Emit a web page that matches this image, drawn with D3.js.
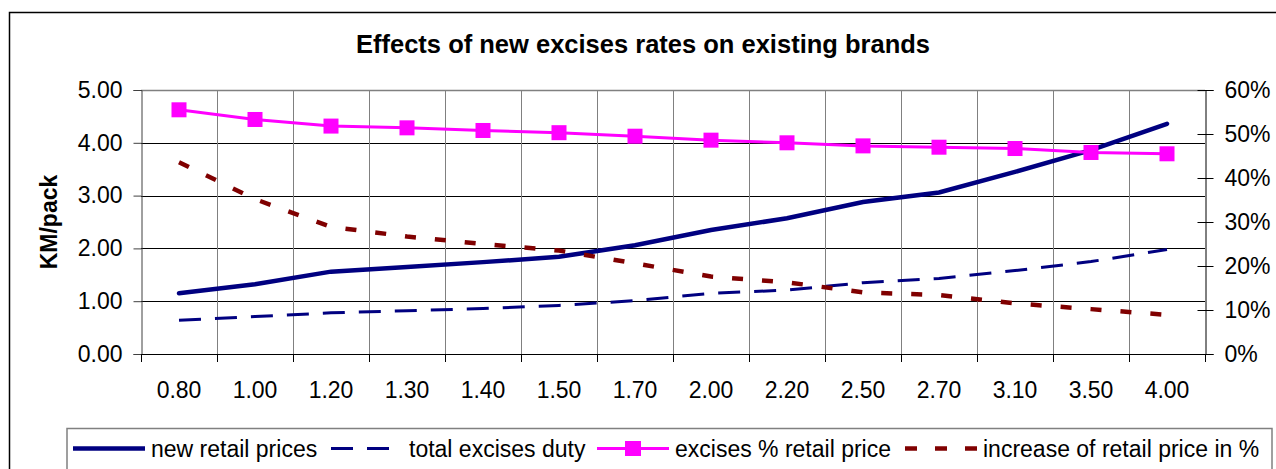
<!DOCTYPE html>
<html>
<head>
<meta charset="utf-8">
<script src="https://cdn.jsdelivr.net/npm/d3@7"></script>
<style>
  body { margin: 0; background: #fff; }
  svg { display: block; font-family: "Liberation Sans", Arial, sans-serif; }
</style>
</head>
<body>
<svg width="1276" height="469"></svg>
<script>
const categories = ['0.80', '1.00', '1.20', '1.30', '1.40', '1.50', '1.70', '2.00', '2.20', '2.50', '2.70', '3.10', '3.50', '4.00'];
const newRetail = [1.15, 1.32, 1.56, 1.65, 1.74, 1.84, 2.06, 2.35, 2.57, 2.88, 3.06, 3.45, 3.86, 4.36];
const totalExcise = [0.64, 0.71, 0.78, 0.82, 0.86, 0.92, 1.01, 1.15, 1.21, 1.35, 1.43, 1.58, 1.75, 1.98];
const excisePct = [0.555, 0.533, 0.518, 0.514, 0.508, 0.503, 0.495, 0.486, 0.480, 0.473, 0.470, 0.467, 0.458, 0.455];
const increasePct = [0.436, 0.352, 0.289, 0.267, 0.250, 0.235, 0.206, 0.176, 0.163, 0.140, 0.134, 0.115, 0.102, 0.089];
const leftTicks = [0, 1, 2, 3, 4, 5];
const rightTicks = [0, 0.1, 0.2, 0.3, 0.4, 0.5, 0.6];

const svg = d3.select('svg');
const plot = { left: 141, right: 1205, top: 90, bottom: 354 };

const x = d3.scaleBand().domain(categories).range([plot.left, plot.right]).padding(0);
const yL = d3.scaleLinear().domain([0, 5]).range([plot.bottom, plot.top]);
const yR = d3.scaleLinear().domain([0, 0.6]).range([plot.bottom, plot.top]);
const cx = (c) => x(c) + x.bandwidth() / 2;

// outer chart frame (right/bottom edges fall outside the picture)
svg.append('path')
  .attr('d', 'M9.5,469 V12.5 H1276')
  .attr('fill', 'none').attr('stroke', '#000').attr('stroke-width', 1.5);

// title
svg.append('text')
  .attr('x', 643).attr('y', 53)
  .attr('text-anchor', 'middle')
  .style('font-size', '25.5px').style('font-weight', 'bold')
  .text('Effects of new excises rates on existing brands');

// grid
const grid = svg.append('g');
grid.selectAll('.hg')
  .data(leftTicks.slice(1, 5))
  .join('line')
  .attr('x1', plot.left).attr('x2', plot.right)
  .attr('y1', (d) => Math.round(yL(d)) + 0.5).attr('y2', (d) => Math.round(yL(d)) + 0.5)
  .attr('stroke', '#000').attr('stroke-width', 1);
grid.selectAll('.vg')
  .data(categories.slice(1))
  .join('line')
  .attr('x1', (d) => Math.round(x(d)) + 0.5).attr('x2', (d) => Math.round(x(d)) + 0.5)
  .attr('y1', plot.top).attr('y2', plot.bottom)
  .attr('stroke', '#808080').attr('stroke-width', 1);
grid.append('line')
  .attr('x1', plot.left).attr('x2', plot.right)
  .attr('y1', plot.top + 0.5).attr('y2', plot.top + 0.5)
  .attr('stroke', '#808080').attr('stroke-width', 1.5);

// left axis
const axL = svg.append('g')
  .attr('transform', `translate(${plot.left + 0.5},0)`)
  .call(d3.axisLeft(yL).tickValues(leftTicks).tickFormat(d3.format('.2f')).tickSize(8).tickPadding(11));
axL.select('.domain').attr('stroke', '#404040');
axL.selectAll('.tick line').attr('stroke', '#404040');
axL.selectAll('text').style('font-size', '23px').attr('fill', '#000');

// right axis
const axR = svg.append('g')
  .attr('transform', `translate(${plot.right + 0.5},0)`)
  .call(d3.axisRight(yR).tickValues(rightTicks).tickFormat(d3.format('.0%')).tickSize(8).tickPadding(11));
axR.select('.domain').attr('stroke', '#000');
axR.selectAll('.tick line').attr('x1', -8).attr('stroke', '#000');
axR.selectAll('text').style('font-size', '23px').attr('fill', '#000');

// bottom axis
const axB = svg.append('g')
  .attr('transform', `translate(0,${plot.bottom + 0.5})`)
  .call(d3.axisBottom(x).tickSize(0).tickPadding(27));
axB.select('.domain').attr('stroke', '#000').attr('d', `M${plot.left},0H${plot.right}`);
axB.selectAll('text').style('font-size', '23px').attr('fill', '#000');
svg.append('g').selectAll('line')
  .data(categories.concat(['end']))
  .join('line')
  .attr('x1', (d, i) => Math.round(plot.left + i * x.bandwidth()) + 0.5)
  .attr('x2', (d, i) => Math.round(plot.left + i * x.bandwidth()) + 0.5)
  .attr('y1', plot.bottom).attr('y2', plot.bottom + 8)
  .attr('stroke', '#000');

// y title
svg.append('text')
  .attr('transform', `translate(57,${(plot.top + plot.bottom) / 2}) rotate(-90)`)
  .attr('text-anchor', 'middle')
  .style('font-size', '23px').style('font-weight', 'bold')
  .text('KM/pack');

// series
const line = (scale) => d3.line().x((d, i) => cx(categories[i])).y((d) => scale(d));

svg.append('path').datum(newRetail)
  .attr('d', line(yL)).attr('fill', 'none')
  .attr('stroke', '#000080').attr('stroke-width', 4.5).attr('stroke-linecap', 'round');

svg.append('path').datum(totalExcise)
  .attr('d', line(yL)).attr('fill', 'none')
  .attr('stroke', '#000080').attr('stroke-width', 3).attr('stroke-dasharray', '22 14');

svg.append('path').datum(excisePct)
  .attr('d', line(yR)).attr('fill', 'none')
  .attr('stroke', '#ff00ff').attr('stroke-width', 3);
svg.append('g').selectAll('rect')
  .data(excisePct)
  .join('rect')
  .attr('x', (d, i) => cx(categories[i]) - 7.5).attr('y', (d) => yR(d) - 7.5)
  .attr('width', 15).attr('height', 15)
  .attr('fill', '#ff00ff');

svg.append('path').datum(increasePct)
  .attr('d', line(yR)).attr('fill', 'none')
  .attr('stroke', '#800000').attr('stroke-width', 4.5).attr('stroke-dasharray', '11 19');

// legend
const legend = svg.append('g');
legend.append('rect')
  .attr('x', 67).attr('y', 428.5).attr('width', 1205).attr('height', 45)
  .attr('fill', '#fff').attr('stroke', '#808080').attr('stroke-width', 1.5);

const legendItems = [
  { label: 'new retail prices', x0: 73, color: '#000080', width: 4.5, dash: null, marker: false },
  { label: 'total excises duty', x0: 331, color: '#000080', width: 3, dash: '22 14', marker: false },
  { label: 'excises % retail price', x0: 597, color: '#ff00ff', width: 3, dash: null, marker: true },
  { label: 'increase of retail price in %', x0: 905, color: '#800000', width: 4.5, dash: '12 18', marker: false },
];
const ly = 448.5;
const items = legend.selectAll('g.item').data(legendItems).join('g').attr('class', 'item');
items.append('line')
  .attr('x1', (d) => d.x0).attr('x2', (d) => d.x0 + 72)
  .attr('y1', ly).attr('y2', ly)
  .attr('stroke', (d) => d.color).attr('stroke-width', (d) => d.width)
  .attr('stroke-dasharray', (d) => d.dash);
items.filter((d) => d.marker).append('rect')
  .attr('x', (d) => d.x0 + 36 - 8).attr('y', ly - 7.5)
  .attr('width', 16).attr('height', 15)
  .attr('fill', (d) => d.color);
items.append('text')
  .attr('x', (d) => d.x0 + 78).attr('y', 457)
  .style('font-size', '23px')
  .text((d) => d.label);
</script>
</body>
</html>
